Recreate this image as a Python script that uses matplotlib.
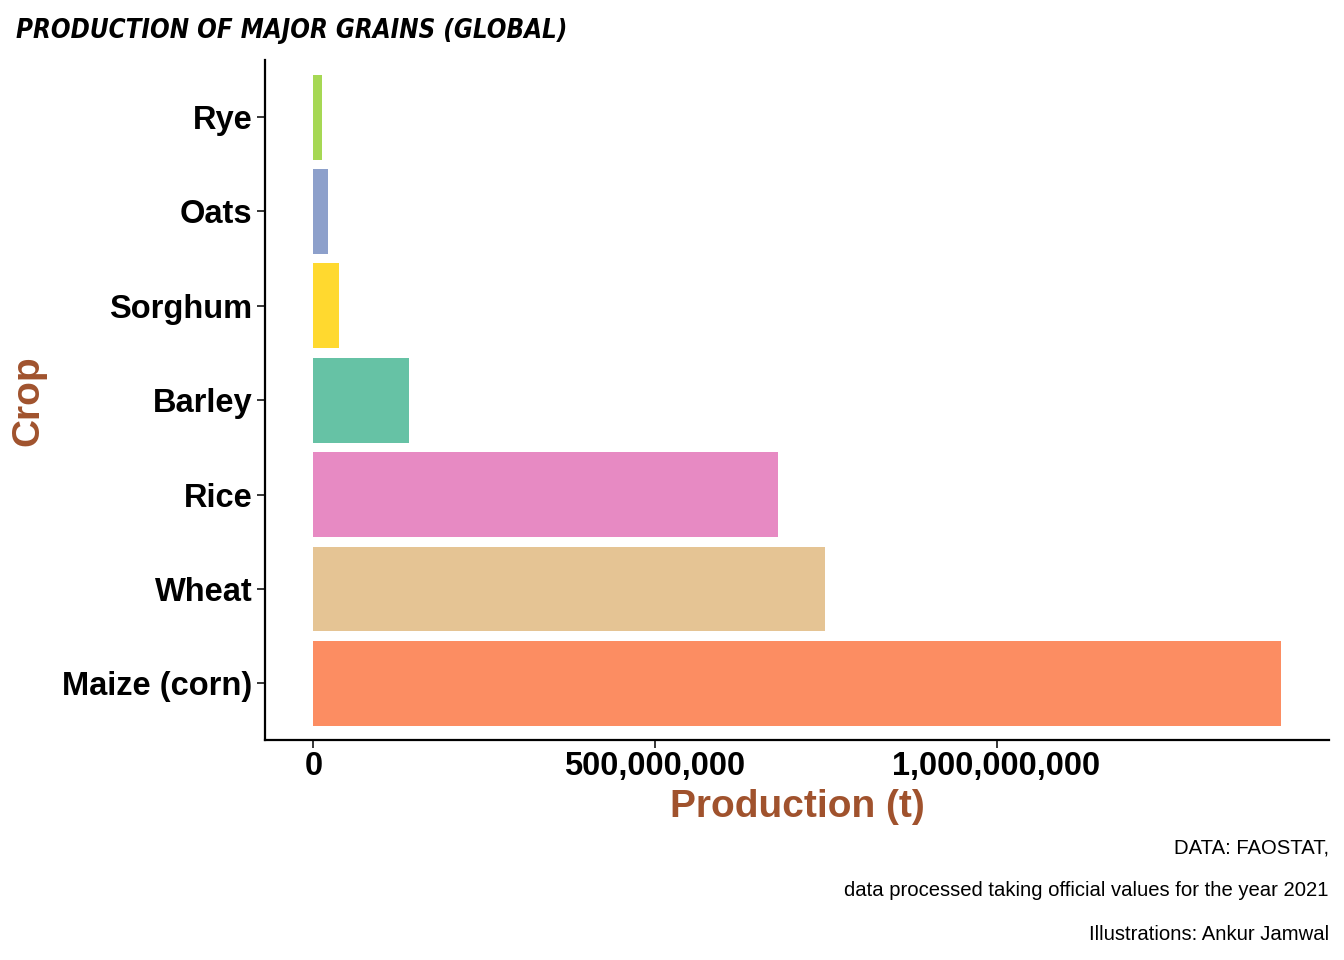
import matplotlib
matplotlib.use("Agg")
import matplotlib.pyplot as plt
from matplotlib.ticker import FuncFormatter

crops = ["Maize (corn)", "Wheat", "Rice", "Barley", "Sorghum", "Oats", "Rye"]
production = [1415800000, 748900000, 680000000, 140400000, 38000000, 21900000, 13200000]
colors = ["#FC8D62", "#E5C494", "#E78AC3", "#66C2A5", "#FFD92F", "#8DA0CB", "#A6D854"]
xticks = [0, 500000000, 1000000000]

plt.rcParams['font.family'] = ['Liberation Sans', 'DejaVu Sans']

fig = plt.figure(figsize=(13.44, 9.6), dpi=100)
ax = fig.add_axes([265/1344, 1-740/960, (1329-265)/1344, (740-60.4)/960])

ypos = list(range(len(crops)))
ax.barh(ypos, production, height=0.9, color=colors)

xmax = max(production)
ax.set_xlim(-0.05*xmax, 1.05*xmax)
ax.set_ylim(-0.6, len(crops)-1+0.6)
ax.set_yticks(ypos)
ax.set_yticklabels(crops)
ax.set_xticks(xticks)
ax.xaxis.set_major_formatter(FuncFormatter(lambda v, p: f"{int(v):,}"))

for s in ["top", "right"]:
    ax.spines[s].set_visible(False)
for s in ["left", "bottom"]:
    ax.spines[s].set_linewidth(1.6)

ax.tick_params(axis='both', direction='out', length=6, width=1.1, colors='black')
for lab in ax.get_xticklabels() + ax.get_yticklabels():
    lab.set_fontsize(23.5)
    lab.set_fontweight('bold')
ax.tick_params(axis='x', pad=2)
ax.tick_params(axis='y', pad=3)

ax.set_xlabel("Production (t)", fontsize=28, fontweight='bold', color='#A0522D', labelpad=5)
ax.set_ylabel("Crop", fontsize=28, fontweight='bold', color='#A0522D', labelpad=0)
ax.yaxis.set_label_coords((46-265)/(1329-265), 0.5)

fig.text(16/1344, 1-31/960, "PRODUCTION OF MAJOR GRAINS (GLOBAL)",
         fontsize=18.5, fontweight='bold', style='italic', stretch='condensed',
         family=['DejaVu Sans'],
         ha='left', va='center')

captions = ["DATA: FAOSTAT,", "data processed taking official values for the year 2021",
            "Illustrations: Ankur Jamwal"]
for i, c in enumerate(captions):
    fig.text(1329/1344, 1-(848+43*i)/960, c, fontsize=14.6, ha='right', va='center')

fig.savefig("out.png", dpi=100)
